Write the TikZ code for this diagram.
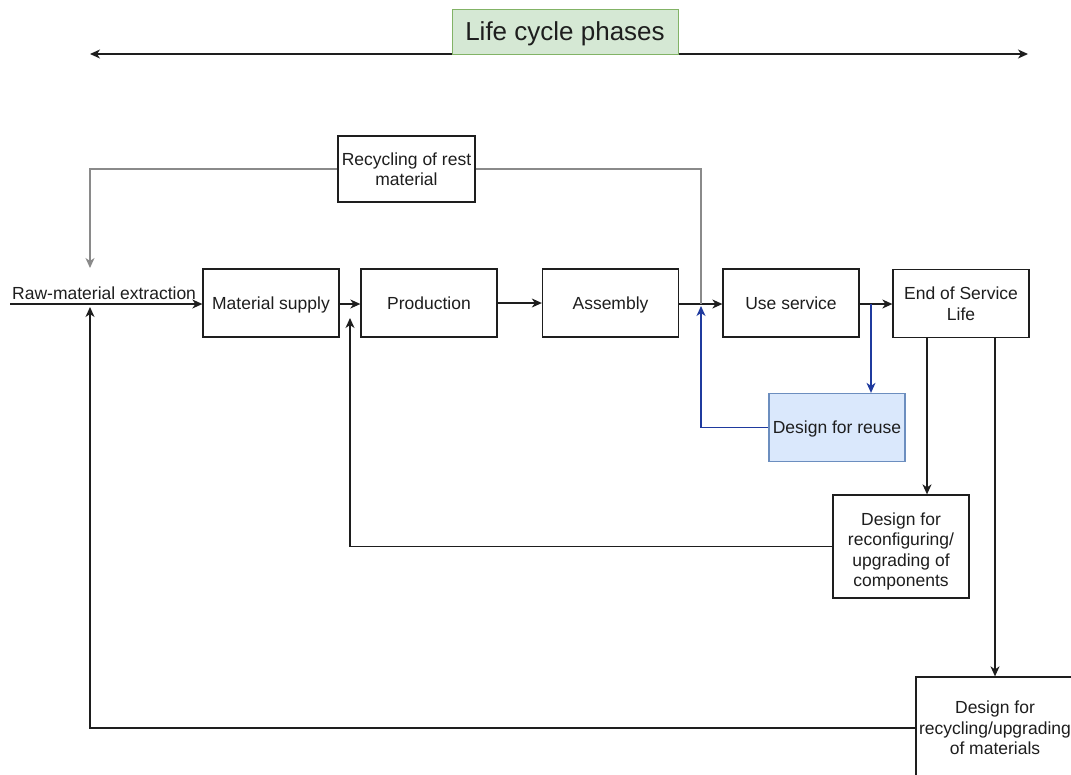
\documentclass[tikz,border=0pt]{standalone}
\usepackage{fontspec}
\setmainfont{Liberation Sans}
\usetikzlibrary{arrows.meta,calc}
\definecolor{titlefill}{HTML}{D5E8D4}
\definecolor{titleline}{HTML}{82B366}
\definecolor{reusefill}{HTML}{DAE8FC}
\definecolor{reuseline}{HTML}{6C8EBF}
\definecolor{backflow}{HTML}{1F3A9E}
\definecolor{restflow}{HTML}{8A8A8A}
\definecolor{ink}{HTML}{1E1E1E}

\tikzset{
  tip/.style={-{Stealth[length=10pt,width=9pt,inset=3pt]}},
  box/.style={draw=ink, line width=1.3pt, fill=white, minimum width=136pt,
    minimum height=68pt, align=center, inner sep=2pt, text=ink,
    font=\fontsize{17.5}{20.5}\selectfont},
  oneline/.style={text height=12.5pt, text depth=0pt},
  flow/.style={draw=ink, line width=1.3pt},
  restline/.style={draw=restflow, line width=1.3pt},
  reuseflow/.style={draw=backflow, line width=1.3pt},
}

\begin{document}
\begin{tikzpicture}[x=1pt, y=-1pt]
  \useasboundingbox (0,0) rectangle (1071,774);
  \clip (0,0) rectangle (1071,774);

  % life cycle axis with its heading
  \coordinate (axisL) at (90,54);
  \coordinate (axisR) at (1028,54);
  \draw[flow, {Stealth[length=10pt,width=9pt,inset=3pt]}-{Stealth[length=10pt,width=9pt,inset=3pt]}] (axisL) -- (axisR);
  \node[draw=titleline, fill=titlefill, line width=1pt, minimum width=226pt,
        minimum height=45pt, inner sep=0pt, text=ink, text height=18.5pt, text depth=0pt,
        font=\fontsize{26}{30}\selectfont] (title) at (565,31.5) {Life cycle phases};

  % main chain of phases
  \node[box, oneline] (ms)   at (271,303)   {Material supply};
  \node[box, oneline] (prod) at (429,303)   {Production};
  \node[box, oneline] (asm)  at (610.5,303) {Assembly};
  \node[box, oneline] (use)  at (791,303)   {Use service};
  \node[box] (eol)  at (961,303.5) {End of Service\\Life};

  % side boxes
  \node[box, minimum width=137pt, minimum height=66pt] (rec) at (406.5,169) {Recycling of rest\\material};
  \node[box, oneline, draw=reuseline, fill=reusefill] (reuse) at (837,427.5) {Design for reuse};
  \node[box, minimum height=103pt] (reconf) at (901,546.5) {\rule{0pt}{23pt}Design for\\reconfiguring/\\upgrading of\\components};
  \node[box, minimum width=158pt, minimum height=102pt] (recyc) at (995,728) {Design for\\recycling/upgrading\\of materials};

  % raw material entry
  \coordinate (rawstart) at (10,304);
  \node[anchor=base west, inner sep=0pt, text=ink, font=\fontsize{17.5}{20.5}\selectfont] (raw) at (12,299) {Raw-material extraction};

  % junction points on the main line
  \coordinate (jraw)  at (90,304);
  \coordinate (jms)   at (350,304);
  \coordinate (jasm)  at (701,304);
  \coordinate (juse)  at (871,304);

  % forward flow
  \draw[flow, tip] (rawstart) -- (rawstart -| ms.west);
  \draw[flow, tip] (ms.east |- jms) -- (prod.west |- jms);
  \draw[flow, tip] (prod) -- (asm);
  \draw[flow, tip] (asm.east |- jasm) -- (use.west |- jasm);
  \draw[flow, tip] (use.east |- juse) -- (eol.west |- juse);

  % recycling of rest material
  \draw[restline] (rec.east) -| (jasm);
  \draw[restline, tip] (rec.west) -| (90,268);

  % reuse loop
  \draw[reuseflow, tip] (juse) -- (juse |- reuse.north);
  \draw[reuseflow, tip] (reuse.west) -| (701,306);

  % end of life branches
  \coordinate (eolA) at ($(eol.south)+(-34,0)$);
  \coordinate (eolB) at ($(eol.south)+(34,0)$);
  \draw[flow, tip] (eolA) -- (eolA |- reconf.north);
  \draw[flow, tip] (eolB) -- (eolB |- recyc.north);

  % return paths
  \draw[flow, tip] (reconf.west) -| (350,318);
  \draw[flow, tip] (recyc.west) -| (90,307);
\end{tikzpicture}
\end{document}
